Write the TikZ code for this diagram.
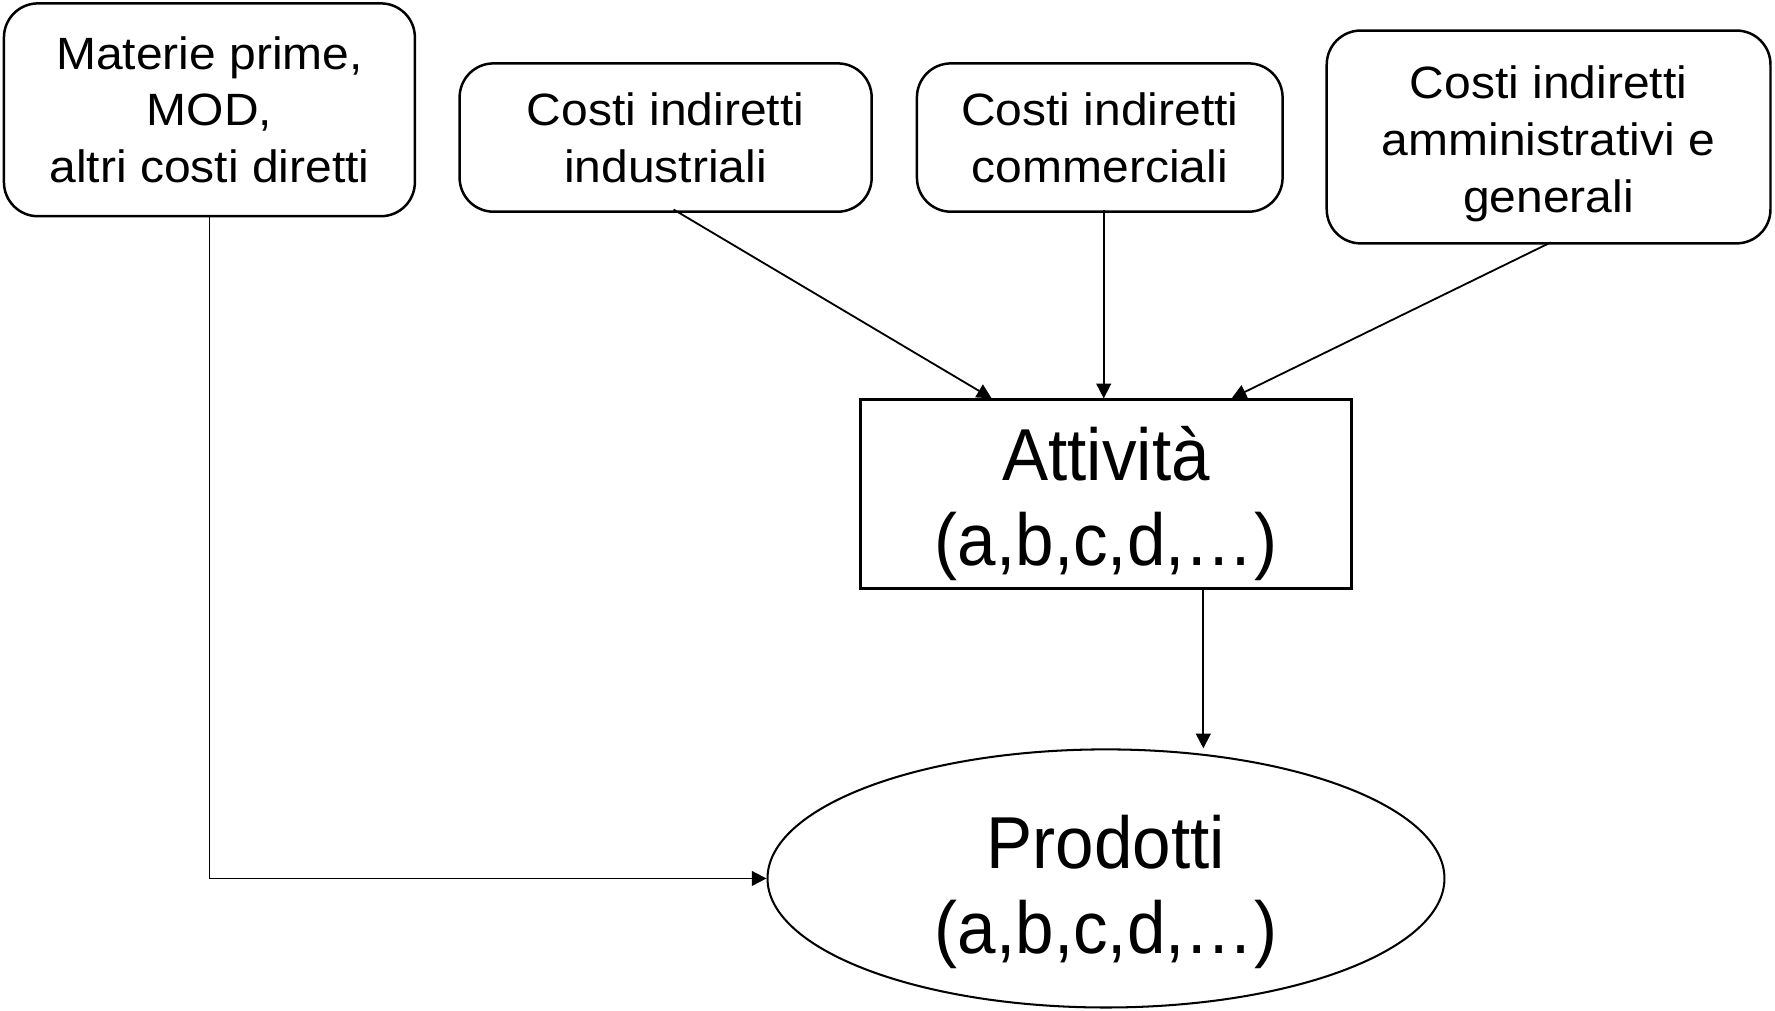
\documentclass[tikz,border=0pt]{standalone}
\usepackage{fontspec}
\usepackage{graphicx}
\setmainfont{Liberation Sans}
\usetikzlibrary{shapes.geometric,arrows.meta,calc}
\newcommand\swide[1]{\scalebox{1.06}[1]{#1}}
\newcommand\bnarrow[1]{\scalebox{0.94}[1]{#1}}
\begin{document}
\begin{tikzpicture}[x=0.5pt,y=-0.5pt,
  costbox/.style={draw,line width=1.1pt,rounded corners=15pt,align=center,
    inner sep=0pt,font=\fontsize{20}{25}\selectfont},
  bigtext/.style={align=center,inner sep=0pt,font=\fontsize{32.5}{37.5}\selectfont},
  arr/.style={line width=0.8pt,-{Triangle[length=6.5pt,width=6.5pt]}}]
\useasboundingbox (0,0) rectangle (1568,893);
\node[costbox,minimum width=181.5pt,minimum height=94pt] (b1) at (185,97)
  {\swide{Materie prime,}\\\swide{MOD,}\\\swide{altri costi diretti}};
\node[costbox,minimum width=182pt,minimum height=65.5pt] (b2) at (588,121.5)
  {\swide{Costi indiretti}\\\swide{industriali}};
\node[costbox,minimum width=161.5pt,minimum height=65.5pt] (b3) at (971.5,121.5)
  {\swide{Costi indiretti}\\\swide{commerciali}};
\node[draw,line width=1.1pt,rounded corners=15pt,minimum width=196pt,minimum height=94pt,
  label={[costbox,draw=none,yshift=-3pt]center:{\swide{Costi indiretti}\\\swide{amministrativi e}\\\swide{generali}}}]
  (b4) at (1368,121) {};
\node[draw,line width=1.1pt,minimum width=217pt,minimum height=83.5pt,
  label={[bigtext,yshift=-4pt]center:{\bnarrow{Attività}\\\bnarrow{(a,b,c,d,…)}}}]
  (att) at (977,436.5) {};
\node[draw,ellipse,line width=0.9pt,inner sep=0pt,minimum width=299pt,minimum height=114pt,
  label={[bigtext,yshift=-6pt]center:{\bnarrow{Prodotti}\\\bnarrow{(a,b,c,d,…)}}}]
  (prod) at (977,776) {};
\draw[arr] ($(b2.south)+(7,-3)$) -- ($(att.north)+(-101,0)$);
\draw[arr] ($(b3.south)+(3.5,-3)$) -- ($(att.north)+(-2,0)$);
\draw[arr] ($(b4.south)+(2,-2)$) -- ($(att.north)+(111,0)$);
\draw[arr] ($(att.south)+(86,0)$) -- ($(prod.north)+(86,0)$);
\draw[arr] (b1.south) |- (prod.west);
\end{tikzpicture}
\end{document}
